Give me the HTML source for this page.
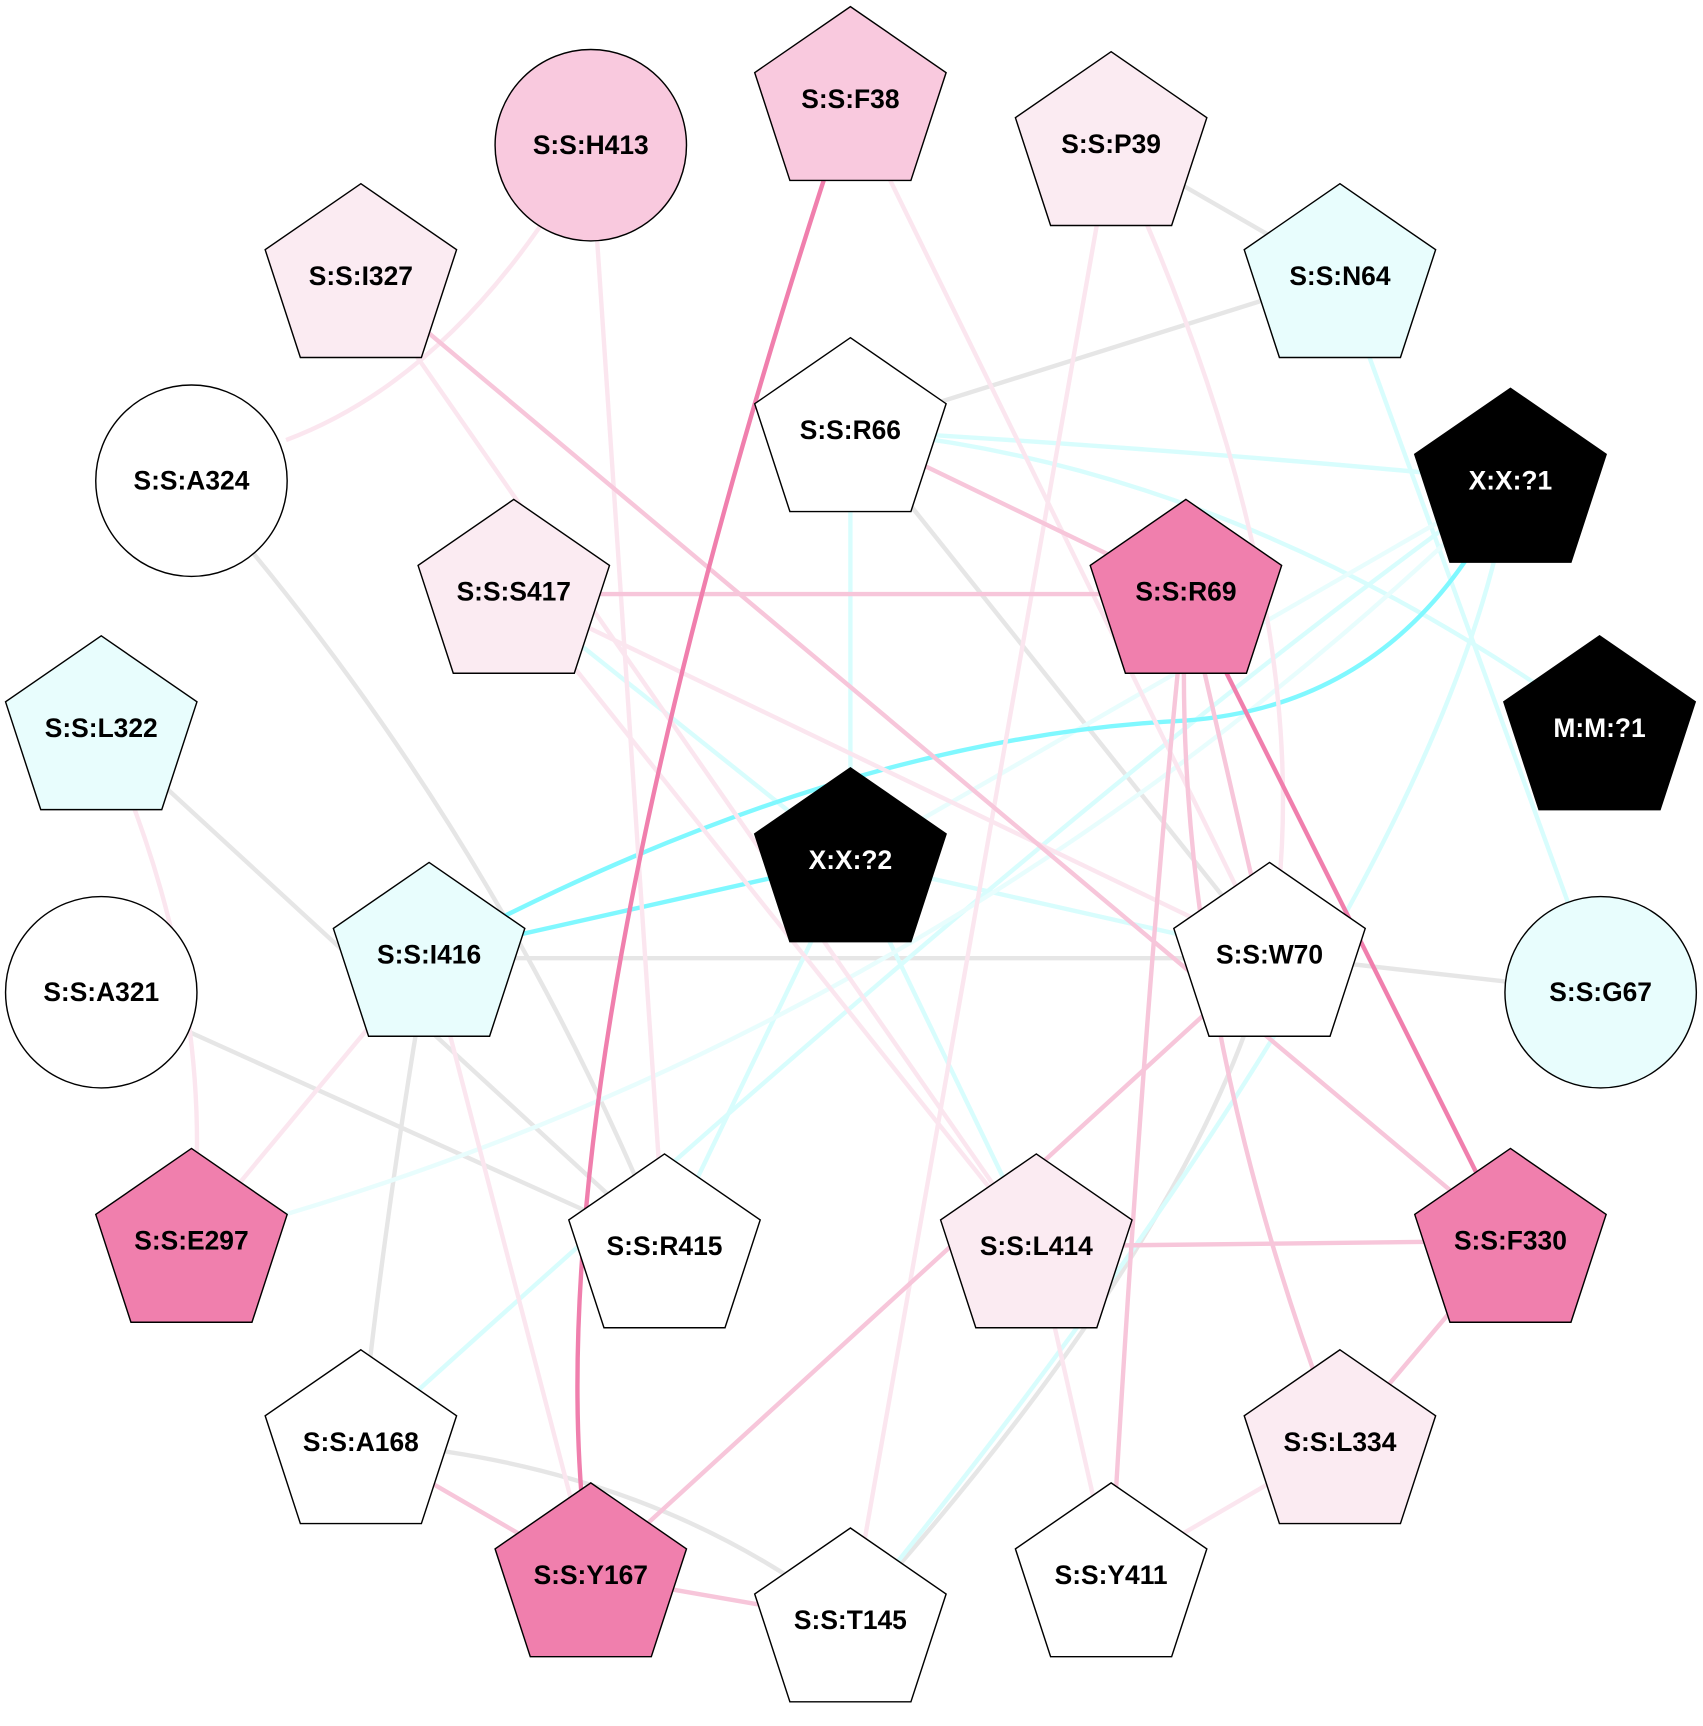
<!DOCTYPE html>
<html><head><meta charset="utf-8"><style>html,body{margin:0;padding:0;background:#fff}svg{display:block}</style></head><body>
<svg width="1703" height="1726" viewBox="0 0 1548 1569" xmlns="http://www.w3.org/2000/svg">
<defs>
<symbol id="p" overflow="visible"><polygon points="0,-84 87,-24 55,74 -55,74 -87,-24"/></symbol>
</defs>
<g fill="none" stroke-width="4">
<g stroke="#e6e6e6">
<line x1="1010" y1="131" x2="1218" y2="251"/>
<line x1="1218" y1="251" x2="773" y2="391"/>
<path d="M174 437 Q450 750 604 1133"/>
<line x1="773" y1="391" x2="1154" y2="868"/>
<line x1="390" y1="871" x2="1154" y2="871"/>
<line x1="1154" y1="868" x2="1455" y2="902"/>
<path d="M1154 868 Q1090 1120 773 1473"/>
<line x1="92" y1="662" x2="604" y2="1133"/>
<line x1="92" y1="902" x2="604" y2="1133"/>
<path d="M390 868 Q350 1100 328 1311"/>
<path d="M328 1311 Q590 1330 773 1473"/>
</g>
<g stroke="#d8fdfd">
<line x1="1218" y1="251" x2="1455" y2="902"/>
<path d="M773 391 Q1100 410 1373 437"/>
<path d="M773 391 Q1120 420 1454 662"/>
<line x1="773" y1="391" x2="773" y2="782"/>
<line x1="467" y1="538" x2="773" y2="782"/>
<line x1="773" y1="782" x2="1154" y2="868"/>
<line x1="773" y1="782" x2="604" y2="1133"/>
<line x1="773" y1="782" x2="942" y2="1133"/>
<path d="M1373 437 Q1000 700 328 1311"/>
<path d="M1373 437 Q1320 800 773 1473"/>
</g>
<g stroke="#e8fdfd">
<path d="M1373 437 Q850 950 174 1128"/>
<line x1="1373" y1="437" x2="773" y2="782"/>
</g>
<g stroke="#80f8ff">
<path d="M1373 437 Q1280 640 1078 655 Q760 670 390 868"/>
<line x1="773" y1="782" x2="390" y2="868"/>
</g>
<g stroke="#fbe6ef">
<path d="M537 132 Q420 340 260 400"/>
<line x1="537" y1="132" x2="604" y2="1133"/>
<line x1="773" y1="90" x2="1154" y2="868"/>
<path d="M1010 131 Q890 800 773 1473"/>
<path d="M1010 131 Q1210 560 1154 868"/>
<line x1="328" y1="251" x2="942" y2="1133"/>
<line x1="467" y1="538" x2="1154" y2="868"/>
<line x1="467" y1="538" x2="942" y2="1133"/>
<line x1="390" y1="868" x2="537" y2="1432"/>
<line x1="390" y1="868" x2="174" y2="1128"/>
<path d="M92 662 Q200 900 174 1128"/>
<line x1="942" y1="1133" x2="1010" y2="1432"/>
<line x1="1218" y1="1311" x2="1010" y2="1432"/>
</g>
<g stroke="#f7c6da">
<line x1="328" y1="251" x2="1373" y2="1128"/>
<line x1="773" y1="391" x2="1078" y2="538"/>
<line x1="467" y1="540" x2="1078" y2="540"/>
<line x1="1078" y1="538" x2="1154" y2="868"/>
<path d="M1078 538 Q1040 900 1010 1432"/>
<path d="M1078 538 Q1060 900 1218 1311"/>
<line x1="1154" y1="868" x2="537" y2="1432"/>
<line x1="328" y1="1311" x2="537" y2="1432"/>
<line x1="537" y1="1432" x2="773" y2="1473"/>
<line x1="942" y1="1133" x2="1373" y2="1128"/>
<line x1="1373" y1="1128" x2="1218" y2="1311"/>
</g>
<g stroke="#f07fad">
<path d="M773 90 Q470 1000 537 1432"/>
<line x1="1078" y1="538" x2="1373" y2="1128"/>
</g>
</g>
<g stroke="#000" stroke-width="1.3">
<circle cx="537" cy="132" r="87" fill="#f9c9de"/>
<circle cx="174" cy="437" r="87" fill="#fff"/>
<circle cx="92" cy="902" r="87" fill="#fff"/>
<circle cx="1455" cy="902" r="87" fill="#e8fdfd"/>
<use href="#p" x="773" y="90" fill="#f9c9de"/>
<use href="#p" x="1010" y="131" fill="#fbebf2"/>
<use href="#p" x="328" y="251" fill="#fbebf2"/>
<use href="#p" x="1218" y="251" fill="#e8fdfd"/>
<use href="#p" x="773" y="391" fill="#fff"/>
<use href="#p" x="1373" y="437" fill="#000"/>
<use href="#p" x="467" y="538" fill="#fbebf2"/>
<use href="#p" x="1078" y="538" fill="#f07fad"/>
<use href="#p" x="92" y="662" fill="#e8fdfd"/>
<use href="#p" x="1454" y="662" fill="#000"/>
<use href="#p" x="773" y="782" fill="#000"/>
<use href="#p" x="390" y="868" fill="#e8fdfd"/>
<use href="#p" x="1154" y="868" fill="#fff"/>
<use href="#p" x="174" y="1128" fill="#f07fad"/>
<use href="#p" x="604" y="1133" fill="#fff"/>
<use href="#p" x="942" y="1133" fill="#fbebf2"/>
<use href="#p" x="1373" y="1128" fill="#f07fad"/>
<use href="#p" x="328" y="1311" fill="#fff"/>
<use href="#p" x="1218" y="1311" fill="#fbebf2"/>
<use href="#p" x="537" y="1432" fill="#f07fad"/>
<use href="#p" x="773" y="1473" fill="#fff"/>
<use href="#p" x="1010" y="1432" fill="#fff"/>
</g>
<g font-family="Liberation Sans, Arial, sans-serif" font-weight="bold" font-size="24" text-anchor="middle" fill="#000">
<text x="537" y="140">S:S:H413</text>
<text x="174" y="445">S:S:A324</text>
<text x="92" y="910">S:S:A321</text>
<text x="1455" y="910">S:S:G67</text>
<text x="773" y="98">S:S:F38</text>
<text x="1010" y="139">S:S:P39</text>
<text x="328" y="259">S:S:I327</text>
<text x="1218" y="259">S:S:N64</text>
<text x="773" y="399">S:S:R66</text>
<text x="1373" y="445" fill="#fff">X:X:?1</text>
<text x="467" y="546">S:S:S417</text>
<text x="1078" y="546">S:S:R69</text>
<text x="92" y="670">S:S:L322</text>
<text x="1454" y="670" fill="#fff">M:M:?1</text>
<text x="773" y="790" fill="#fff">X:X:?2</text>
<text x="390" y="876">S:S:I416</text>
<text x="1154" y="876">S:S:W70</text>
<text x="174" y="1136">S:S:E297</text>
<text x="604" y="1141">S:S:R415</text>
<text x="942" y="1141">S:S:L414</text>
<text x="1373" y="1136">S:S:F330</text>
<text x="328" y="1319">S:S:A168</text>
<text x="1218" y="1319">S:S:L334</text>
<text x="537" y="1440">S:S:Y167</text>
<text x="773" y="1481">S:S:T145</text>
<text x="1010" y="1440">S:S:Y411</text>
</g>
</svg>
</body></html>
